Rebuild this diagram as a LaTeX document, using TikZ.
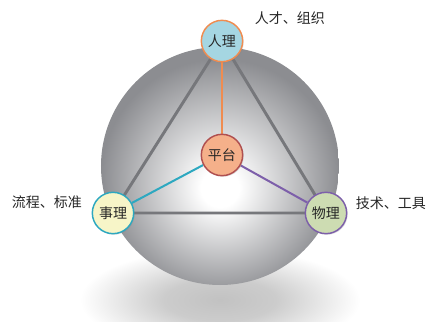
\documentclass[tikz,border=0pt]{standalone}
\usepackage{fontspec}
\newfontfamily\cjk{Noto Sans CJK SC}
\usetikzlibrary{shadows}
\definecolor{edgegray}{RGB}{140,141,145}
\definecolor{tri}{RGB}{118,119,123}
\definecolor{spokeO}{RGB}{240,140,80}
\definecolor{spokeT}{RGB}{45,168,192}
\definecolor{spokeP}{RGB}{125,95,170}
\definecolor{fillB}{RGB}{165,214,226}
\definecolor{fillY}{RGB}{247,245,200}
\definecolor{fillG}{RGB}{205,220,178}
\definecolor{fillS}{RGB}{245,176,138}
\definecolor{bordS}{RGB}{176,80,80}
\pgfdeclareradialshading{sphereshade}{\pgfpoint{0bp}{-5bp}}{color(0bp)=(white); color(4bp)=(white); color(25bp)=(edgegray); color(31bp)=(edgegray); color(50bp)=(edgegray)}
\pgfdeclareradialshading{shadowshade}{\pgfpoint{0bp}{0bp}}{color(0bp)=(gray!48); color(10bp)=(gray!40); color(25bp)=(white); color(50bp)=(white)}
\pgfdeclarelayer{bg}
\pgfdeclarelayer{lines}
\pgfsetlayers{bg,lines,main}
\tikzset{
  ball/.style={circle, minimum size=31pt, inner sep=0pt, line width=1.1pt, font=\cjk\fontsize{10.5pt}{12pt}\selectfont, text=black!85,
    drop shadow={opacity=0.25, shadow xshift=0.8pt, shadow yshift=-0.8pt}},
  lab/.style={font=\cjk\fontsize{10.5pt}{12pt}\selectfont, text=black!85, inner sep=0pt},
  triline/.style={draw=tri, line width=2.2pt},
  spoke/.style={line width=1.5pt}
}
\begin{document}
\begin{tikzpicture}[x=0.75pt, y=-0.75pt]
\useasboundingbox (0,0) rectangle (430,322);
\begin{pgfonlayer}{bg}
\begin{scope}
\clip (0,0) rectangle (430,322);
\shade[shading=shadowshade] (220,300) ellipse [x radius=140, y radius=52];
\end{scope}
\shade[shading=sphereshade] (220,166) circle [radius=119];
\end{pgfonlayer}
\node[ball, fill=fillB, draw=spokeO] (ren) at (222,41) {人理};
\node[ball, fill=fillS, draw=bordS] (pt) at (222,155) {平台};
\node[ball, fill=fillY, draw=spokeT] (shi) at (113,213) {事理};
\node[ball, fill=fillG, draw=spokeP] (wu) at (326,213) {物理};
\begin{pgfonlayer}{lines}
\draw[triline] (ren.center) -- (shi.center) -- (wu.center) -- cycle;
\draw[spoke, spokeO] (pt) -- (ren);
\draw[spoke, spokeT] (pt) -- (shi);
\draw[spoke, spokeP] (pt) -- (wu);
\end{pgfonlayer}
\node[lab] (l1) at (290,18) {人才、组织};
\node[lab] (l2) at (47,202) {流程、标准};
\node[lab] (l3) at (391,203) {技术、工具};
\end{tikzpicture}
\end{document}
